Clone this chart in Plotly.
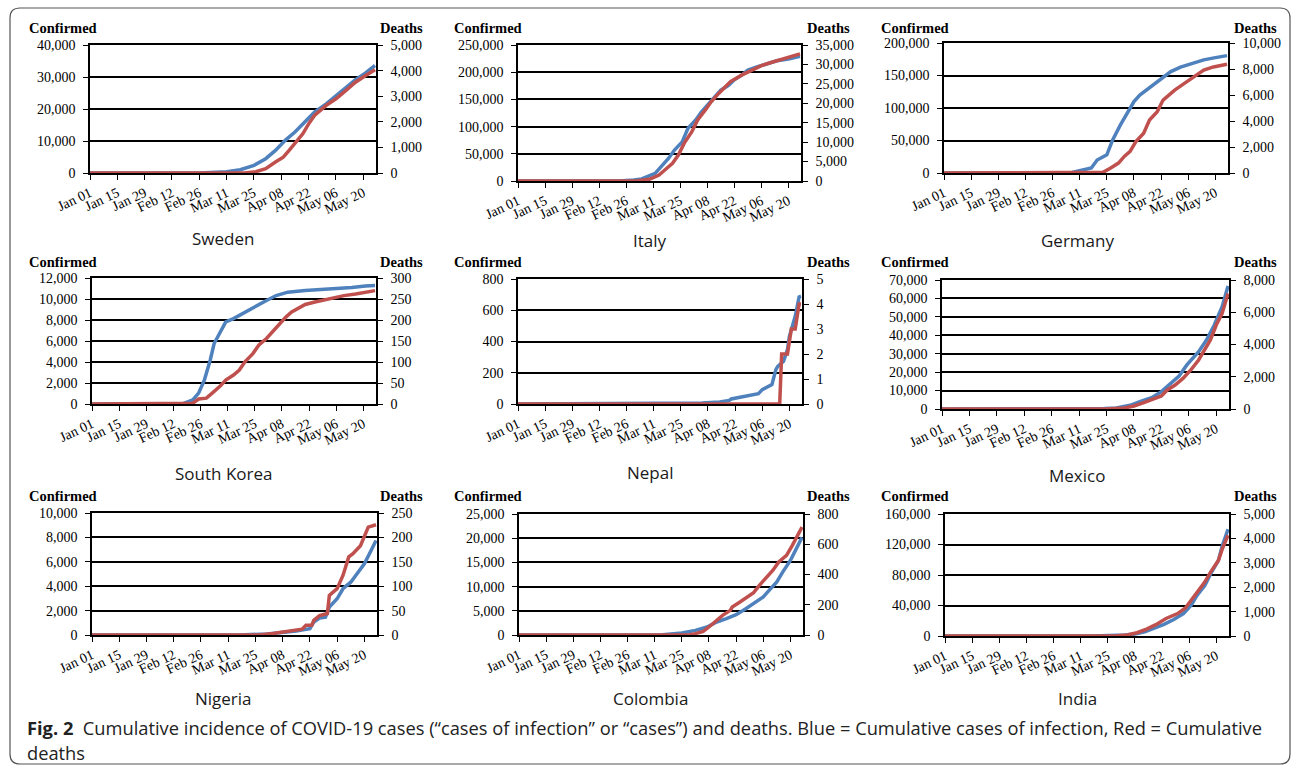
import plotly.graph_objects as go

W, H = 1295, 774
BLUE = "#4F81BD"
RED = "#C0504D"

TICK_DATES = ["2020-01-01", "2020-01-15", "2020-01-29", "2020-02-12", "2020-02-26",
              "2020-03-11", "2020-03-25", "2020-04-08", "2020-04-22", "2020-05-06", "2020-05-20"]
TICK_LABELS = ["Jan 01", "Jan 15", "Jan 29", "Feb 12", "Feb 26", "Mar 11", "Mar 25",
               "Apr 08", "Apr 22", "May 06", "May 20"]

# ---- Sweden ----
SWE_CONF_DATES = ["01-01", "02-26", "03-11", "03-18", "03-25", "03-31", "04-05", "04-10", "04-15",
                  "04-20", "04-25", "05-01", "05-06", "05-11", "05-16", "05-21", "05-26"]
SWE_CONF = [0, 0, 400, 1040, 2390, 4470, 7070, 10200, 12800, 15900, 19000, 21600, 24200,
            26800, 29200, 31200, 33600]
SWE_DEATH_DATES = ["01-01", "03-20", "03-26", "03-31", "04-05", "04-09", "04-12", "04-15", "04-19",
                   "04-22", "04-25", "05-01", "05-06", "05-11", "05-16", "05-21", "05-26"]
SWE_DEATHS = [0, 0, 50, 170, 430, 620, 880, 1140, 1530, 1920, 2250, 2640, 2900, 3220, 3545,
              3800, 4030]

# ---- Italy ----
ITA_CONF_DATES = ["01-01", "02-22", "03-01", "03-05", "03-12", "03-15", "03-19", "03-22", "03-26",
                  "03-29", "04-02", "04-05", "04-09", "04-12", "04-15", "04-19", "04-22", "04-26",
                  "04-29", "05-04", "05-09", "05-14", "05-20", "05-26"]
ITA_CONF = [0, 0, 1700, 3700, 14000, 26000, 42000, 57000, 72000, 97000, 112000, 127000, 143000,
            155000, 167000, 176000, 186000, 195000, 204000, 210000, 216000, 221000, 224000, 229000]
ITA_DEATH_DATES = ["01-01", "02-25", "03-03", "03-09", "03-14", "03-17", "03-21", "03-24", "03-27",
                   "03-31", "04-03", "04-07", "04-10", "04-14", "04-17", "04-20", "04-26", "05-01",
                   "05-06", "05-11", "05-16", "05-21", "05-26"]
ITA_DEATHS = [0, 0, 80, 430, 1540, 2830, 4550, 6690, 9690, 12700, 15700, 18300, 20400, 22600,
              24100, 25600, 27300, 28600, 29700, 30500, 31300, 32000, 32700]

# ---- Germany ----
DEU_CONF_DATES = ["01-01", "03-01", "03-07", "03-17", "03-20", "03-25", "03-28", "04-01", "04-05",
                  "04-08", "04-11", "04-17", "04-22", "04-27", "05-02", "05-07", "05-14", "05-20",
                  "05-26"]
DEU_CONF = [0, 0, 800, 7600, 20000, 28000, 51000, 74000, 94000, 110000, 120000, 133000, 145000,
            156000, 163000, 168000, 174000, 177500, 180600]
DEU_DEATH_DATES = ["01-01", "03-18", "03-23", "03-27", "03-31", "04-03", "04-06", "04-09", "04-13",
                   "04-16", "04-20", "04-23", "04-29", "05-04", "05-09", "05-14", "05-19", "05-26"]
DEU_DEATHS = [0, 0, 50, 380, 765, 1275, 1660, 2420, 3060, 4080, 4720, 5610, 6380, 6890, 7400,
              7910, 8160, 8370]

# ---- South Korea ----
KOR_CONF_DATES = ["01-01", "02-17", "02-22", "02-25", "02-28", "03-02", "03-04", "03-07", "03-10",
                  "03-14", "03-17", "03-21", "03-25", "03-31", "04-05", "04-11", "04-20", "04-28",
                  "05-07", "05-14", "05-21", "05-26"]
KOR_CONF = [0, 30, 400, 1040, 2300, 4190, 5760, 6870, 7810, 8130, 8440, 8910, 9230, 9860, 10330,
            10650, 10800, 10900, 10960, 11100, 11240, 11290]
KOR_DEATH_DATES = ["01-01", "02-19", "02-22", "02-25", "02-29", "03-03", "03-07", "03-10", "03-14",
                   "03-17", "03-20", "03-24", "03-27", "03-31", "04-03", "04-07", "04-10", "04-13",
                   "04-17", "04-20", "04-25", "04-30", "05-05", "05-10", "05-16", "05-21", "05-26"]
KOR_DEATHS = [0, 0, 2, 12, 14, 26, 42, 57, 69, 81, 101, 120, 140, 156, 172, 191, 207, 219, 229,
              237, 243, 248, 254, 258, 262, 266, 270]

# ---- Nepal ----
NPL_CONF_DATES = ["01-01", "03-23", "04-05", "04-14", "04-19", "04-20", "04-24", "04-29", "05-04",
                  "05-06", "05-08", "05-11", "05-13", "05-14", "05-17", "05-19", "05-20", "05-23",
                  "05-25", "05-26"]
NPL_CONF = [0, 2, 6, 13, 23, 32, 43, 53, 66, 92, 107, 124, 220, 241, 273, 348, 433, 561, 685, 690]
NPL_DEATH_DATES = ["01-01", "05-15", "05-16", "05-19", "05-21", "05-23", "05-25", "05-26"]
NPL_DEATHS = [0, 0, 2, 2, 3, 3, 4, 4]

# ---- Mexico ----
MEX_CONF_DATES = ["01-01", "03-12", "03-24", "03-30", "04-06", "04-11", "04-17", "04-22", "04-27",
                  "05-01", "05-05", "05-11", "05-15", "05-19", "05-23", "05-26"]
MEX_CONF = [0, 0, 300, 540, 2000, 4000, 6150, 9400, 13900, 17900, 23900, 31100, 37400, 45600,
            55500, 66700]
MEX_DEATH_DATES = ["01-01", "03-25", "04-03", "04-08", "04-13", "04-18", "04-22", "04-25", "04-29",
                   "05-03", "05-07", "05-11", "05-14", "05-17", "05-20", "05-23", "05-26"]
MEX_DEATHS = [0, 0, 60, 186, 390, 620, 806, 1180, 1490, 1900, 2420, 3040, 3660, 4280, 5210, 5930,
              7170]

# ---- Nigeria ----
NGA_CONF_DATES = ["01-01", "03-10", "03-17", "03-31", "04-08", "04-15", "04-20", "04-22", "04-24",
                  "04-27", "04-30", "05-02", "05-06", "05-09", "05-13", "05-16", "05-20", "05-23",
                  "05-26"]
NGA_CONF = [0, 0, 10, 80, 190, 330, 460, 520, 1060, 1390, 1470, 2290, 2970, 3790, 4330, 5010,
            5830, 6780, 7740]
NGA_DEATH_DATES = ["01-01", "03-27", "04-03", "04-08", "04-13", "04-18", "04-20", "04-23", "04-24",
                   "04-27", "05-01", "05-02", "05-06", "05-09", "05-12", "05-14", "05-18", "05-20",
                   "05-22", "05-26"]
NGA_DEATHS = [0, 0, 3, 6, 8, 12, 20, 20, 30, 40, 44, 81, 95, 122, 160, 166, 183, 200, 221, 226]

# ---- Colombia ----
COL_CONF_DATES = ["01-01", "03-08", "03-15", "03-25", "04-01", "04-07", "04-12", "04-17", "04-22",
                  "04-27", "05-02", "05-06", "05-09", "05-13", "05-16", "05-20", "05-23", "05-26"]
COL_CONF = [0, 0, 50, 410, 960, 1650, 2690, 3370, 4200, 5440, 6680, 7850, 9230, 10950, 13000,
            15400, 17800, 20200]
COL_DEATH_DATES = ["01-01", "03-22", "03-29", "04-01", "04-05", "04-08", "04-12", "04-15", "04-19",
                   "04-20", "04-24", "04-27", "05-01", "05-04", "05-08", "05-11", "05-14", "05-18",
                   "05-21", "05-26"]
COL_DEATHS = [0, 0, 2, 9, 24, 53, 97, 130, 163, 185, 218, 245, 280, 328, 383, 428, 483, 527, 593,
              714]

# ---- India ----
IND_CONF_DATES = ["01-01", "03-05", "03-17", "04-03", "04-08", "04-13", "04-18", "04-23", "04-28",
                  "05-03", "05-07", "05-10", "05-14", "05-17", "05-21", "05-23", "05-26"]
IND_CONF = [0, 0, 100, 1300, 2600, 5600, 10000, 15200, 21700, 29500, 40300, 53300, 66300, 81500,
            98900, 118000, 140000]
IND_DEATH_DATES = ["01-01", "03-22", "03-30", "04-04", "04-09", "04-14", "04-19", "04-24", "04-30",
                   "05-04", "05-07", "05-10", "05-14", "05-17", "05-21", "05-23", "05-26"]
IND_DEATHS = [0, 0, 10, 40, 135, 285, 475, 718, 920, 1150, 1460, 1800, 2210, 2620, 3090, 3560,
              4130]

COUNTRIES = ["Sweden", "Italy", "Germany", "South Korea", "Nepal", "Mexico",
             "Nigeria", "Colombia", "India"]
LEFT_RANGES = [(40000, 10000), (250000, 50000), (200000, 50000), (12000, 2000), (800, 200),
               (70000, 10000), (10000, 2000), (25000, 5000), (160000, 40000)]
RIGHT_RANGES = [(5000, 1000), (35000, 5000), (10000, 2000), (300, 50), (5, 1), (8000, 2000),
                (250, 50), (800, 200), (5000, 1000)]
SERIES = [
    (SWE_CONF_DATES, SWE_CONF, SWE_DEATH_DATES, SWE_DEATHS),
    (ITA_CONF_DATES, ITA_CONF, ITA_DEATH_DATES, ITA_DEATHS),
    (DEU_CONF_DATES, DEU_CONF, DEU_DEATH_DATES, DEU_DEATHS),
    (KOR_CONF_DATES, KOR_CONF, KOR_DEATH_DATES, KOR_DEATHS),
    (NPL_CONF_DATES, NPL_CONF, NPL_DEATH_DATES, NPL_DEATHS),
    (MEX_CONF_DATES, MEX_CONF, MEX_DEATH_DATES, MEX_DEATHS),
    (NGA_CONF_DATES, NGA_CONF, NGA_DEATH_DATES, NGA_DEATHS),
    (COL_CONF_DATES, COL_CONF, COL_DEATH_DATES, COL_DEATHS),
    (IND_CONF_DATES, IND_CONF, IND_DEATH_DATES, IND_DEATHS),
]

# plot-area boxes in pixels: (left, right, top, bottom)
BOXES = [(90, 376, 45, 173), (518, 801, 45, 181), (944, 1228, 43, 173),
         (92, 376, 278, 404), (518, 802, 279, 404), (942, 1229, 280, 409),
         (92, 377, 513, 635), (519, 803, 514, 635), (945, 1229, 514, 636)]
TITLE_POS = [(223, 238), (650, 240), (1077, 240),
             (223, 473), (650, 472), (1077, 475),
             (223, 698), (650, 698), (1077, 698)]
COL_LABEL_X = [(27, 425), (452, 852), (879, 1279)]
ROW_LABEL_Y = [28, 262, 496]


def px(x):
    return x / W


def py(y):
    return 1 - y / H


def d(s):
    return "2020-" + s


fig = go.Figure()
SERIF = "Liberation Serif, Times New Roman, serif"
TICKFONT = dict(family=SERIF, size=14, color="black")
XTICKFONT = dict(family=SERIF, size=14, color="black")
annotations = []
layout = {}

for i, name in enumerate(COUNTRIES):
    n = i + 1
    nr = i + 10
    xa = "x" if n == 1 else f"x{n}"
    ya = "y" if n == 1 else f"y{n}"
    yr = f"y{nr}"
    cd, cv, dd, dv = SERIES[i]
    fig.add_trace(go.Scatter(x=[d(s) for s in cd], y=cv, mode="lines", xaxis=xa, yaxis=ya,
                             line=dict(color=BLUE, width=3.5), showlegend=False, hoverinfo="skip"))
    fig.add_trace(go.Scatter(x=[d(s) for s in dd], y=dv, mode="lines", xaxis=xa, yaxis=yr,
                             line=dict(color=RED, width=3.5), showlegend=False, hoverinfo="skip"))
    l, r, t, b = BOXES[i]
    lmax, ldt = LEFT_RANGES[i]
    rmax, rdt = RIGHT_RANGES[i]
    layout[f"xaxis{n}"] = dict(
        domain=[px(l), px(r)], anchor=ya, type="date", automargin=False,
        range=["2020-01-01", "2020-05-26 12:00"],
        tickmode="array", tickvals=TICK_DATES, ticktext=TICK_LABELS,
        tickangle=-25, tickfont=XTICKFONT, ticks="outside", ticklen=5, tickcolor="black",
        showline=True, linecolor="black", linewidth=1.5, mirror=True,
        showgrid=False, zeroline=False, fixedrange=True,
    )
    layout[f"yaxis{n}"] = dict(
        domain=[py(b), py(t)], anchor=xa, range=[0, lmax], dtick=ldt, tick0=0, automargin=False,
        tickformat=",d", tickfont=TICKFONT, ticks="outside", ticklen=5, tickcolor="black",
        ticklabelstandoff=5,
        showline=True, linecolor="black", linewidth=1.5,
        showgrid=True, gridcolor="black", gridwidth=1.5, zeroline=False, fixedrange=True,
    )
    layout[f"yaxis{nr}"] = dict(
        overlaying=ya, side="right", anchor=xa, range=[0, rmax], dtick=rdt, tick0=0,
        automargin=False, ticklabelstandoff=5,
        tickformat=",d", tickfont=TICKFONT, ticks="outside", ticklen=5, tickcolor="black",
        showline=True, linecolor="black", linewidth=1.5,
        showgrid=False, zeroline=False, fixedrange=True,
    )
    tx, ty = TITLE_POS[i]
    annotations.append(dict(x=px(tx), y=py(ty), xref="paper", yref="paper", text=name,
                            showarrow=False, xanchor="center", yanchor="middle",
                            font=dict(family="Open Sans, sans-serif", size=17, color="#1a1a1a")))
    cx_l, cx_r = COL_LABEL_X[i % 3]
    ry = ROW_LABEL_Y[i // 3]
    annotations.append(dict(x=px(cx_l), y=py(ry), xref="paper", yref="paper",
                            text="<b>Confirmed</b>", showarrow=False, xanchor="left",
                            yanchor="middle", font=dict(family=SERIF, size=14.5, color="black")))
    annotations.append(dict(x=px(cx_r), y=py(ry), xref="paper", yref="paper",
                            text="<b>Deaths</b>", showarrow=False, xanchor="right",
                            yanchor="middle", font=dict(family=SERIF, size=14.5, color="black")))

CAPTION_1 = ("<b>Fig. 2</b>\u00a0\u00a0Cumulative incidence of COVID-19 cases (“cases of infection” or "
             "“cases”) and deaths. Blue = Cumulative cases of infection, Red = Cumulative")
CAPTION_2 = "deaths"
CAP_FONT = dict(family="Open Sans, sans-serif", size=18.3, color="#222222")
annotations.append(dict(x=px(25), y=py(727), xref="paper", yref="paper", text=CAPTION_1,
                        showarrow=False, xanchor="left", yanchor="middle", font=CAP_FONT))
annotations.append(dict(x=px(25), y=py(752), xref="paper", yref="paper", text=CAPTION_2,
                        showarrow=False, xanchor="left", yanchor="middle", font=CAP_FONT))

# rounded border
L, R, T, B, rad = 10, 1290, 8, 764, 10
rx, ry_ = rad / W, rad / H
x0, x1, y0, y1 = px(L), px(R), py(B), py(T)
path = (f"M {x0 + rx},{y1} L {x1 - rx},{y1} Q {x1},{y1} {x1},{y1 - ry_} "
        f"L {x1},{y0 + ry_} Q {x1},{y0} {x1 - rx},{y0} L {x0 + rx},{y0} "
        f"Q {x0},{y0} {x0},{y0 + ry_} L {x0},{y1 - ry_} Q {x0},{y1} {x0 + rx},{y1} Z")

fig.update_layout(
    width=W, height=H, margin=dict(l=0, r=0, t=0, b=0, autoexpand=False),
    paper_bgcolor="white", plot_bgcolor="white",
    annotations=annotations,
    shapes=[dict(type="path", path=path, xref="paper", yref="paper",
                 line=dict(color="#555555", width=1.2), layer="below")],
    **layout,
)

fig.write_html("out.html", config={"displayModeBar": False},
               post_script="document.body.style.margin='0';document.body.style.overflow='hidden';")
